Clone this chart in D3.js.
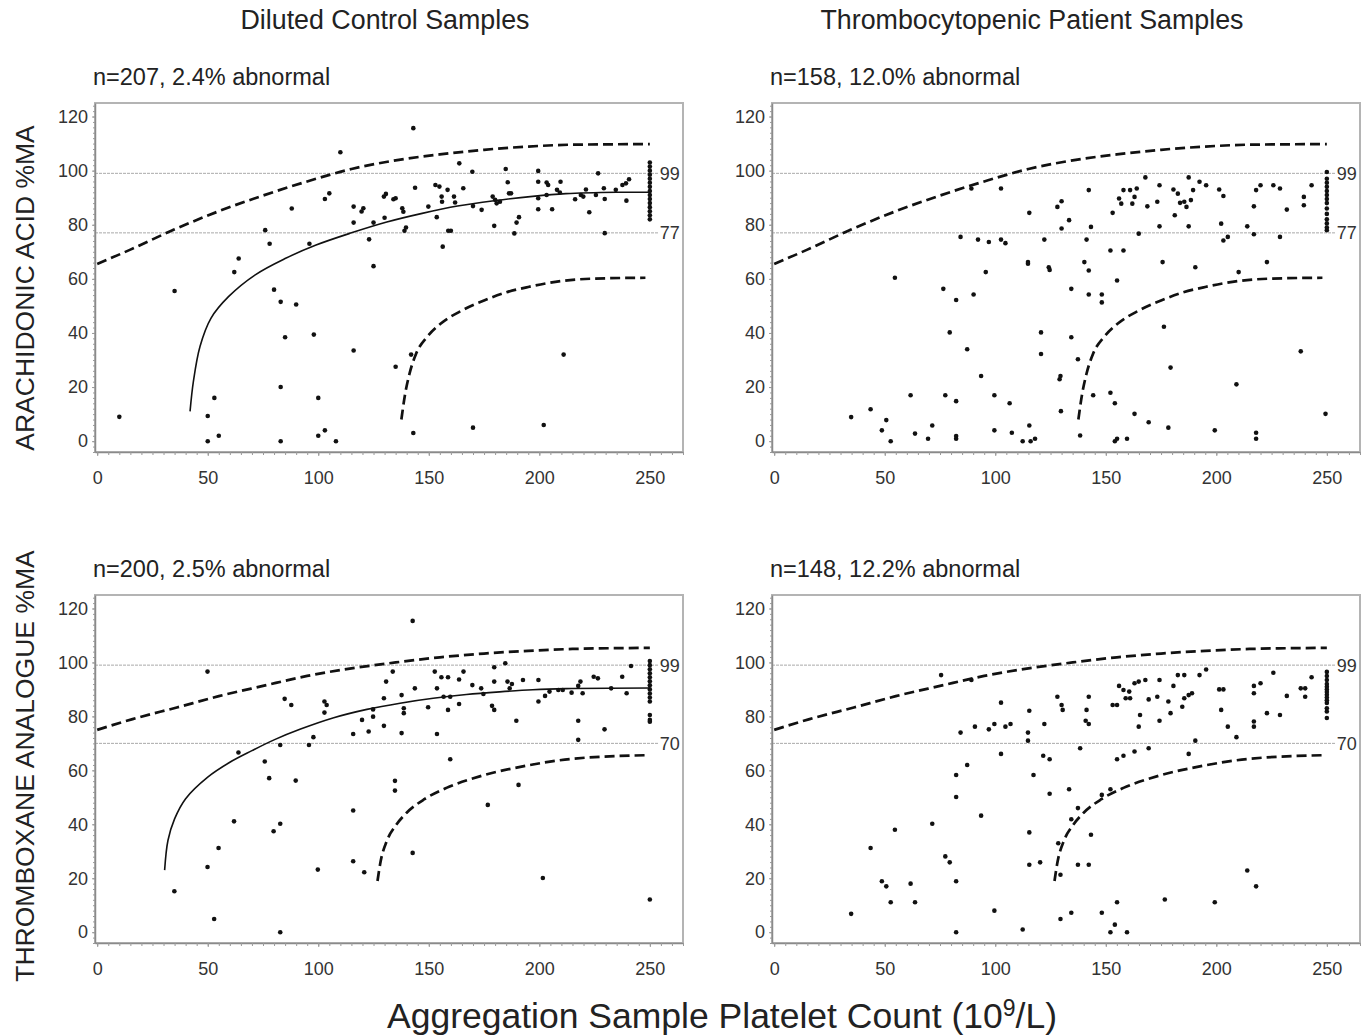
<!DOCTYPE html>
<html>
<head>
<meta charset="utf-8">
<script src="https://cdn.jsdelivr.net/npm/d3@7/dist/d3.min.js"></script>
<style>
  body { margin: 0; background: #fff; }
  svg { display: block; font-family: "Liberation Sans", Arial, sans-serif; }
</style>
</head>
<body>
<div class="canvas"></div>
<script>
// Axis ticks and labels
const xTicks = [0, 50, 100, 150, 200, 250];
const yTicks = [0, 20, 40, 60, 80, 100, 120];
const colTitles = ["Diluted Control Samples", "Thrombocytopenic Patient Samples"];
const rowTitles = ["ARACHIDONIC ACID %MA", "THROMBOXANE ANALOGUE %MA"];
const panelLabels = ["n=207, 2.4% abnormal", "n=158, 12.0% abnormal", "n=200, 2.5% abnormal", "n=148, 12.2% abnormal"];
const refLines = [[99, 77], [99, 70]];

// Reference band curves (upper / lower dashed) and fitted curve (solid) per row
const aaUpper = [[0,65.5],[15,70.8],[35,78.3],[55,85],[75,90.8],[95,96],[115,100.6],[135,103.8],[155,106],[175,107.7],[195,108.9],[215,109.6],[250,109.8]];
const aaLower = [[137.6,8],[139.2,17],[141.3,25],[144.3,32.4],[149.3,38.6],[155.3,43.4],[165,48.3],[175,52],[185,55],[195,57],[211,59.3],[225,60.1],[248,60.4]];
const aaFit = [[42,11],[43.5,22],[46.5,35],[51.5,45.5],[59.5,53.5],[71.5,61.5],[85,67.5],[99,72.5],[115,77],[131,81],[147,84.2],[163,86.9],[180,88.9],[197,90.5],[212,91.5],[235,92],[250,92]];
const txUpper = [[0,75],[16,79],[36,83.3],[55,87.5],[75,91.3],[95,95],[115,97.8],[135,100],[155,101.9],[175,103.3],[195,104.3],[215,105],[250,105.4]];
const txLower = [[126.8,19],[128.2,26.2],[131,33.8],[135,39.5],[140,44.3],[148,49.3],[158,53.5],[174,58],[194,61.7],[214,64.2],[248,65.6]];
const txFit = [[30.5,23],[32,34],[35,42],[40,49.5],[50,57.5],[60,63],[70,67.3],[80,71.3],[92,75.3],[107,79.5],[122,82.6],[137,84.9],[152,86.7],[167,88.1],[182,89.1],[197,89.9],[212,90.3],[250,90.5]];

// Points: [platelet count, %MA]
const aaControl = [[10,9],[35,55.5],[50,9.3],[50,0],[53,16],[55,2],[62,62.5],[64,67.5],[76,78],[78,73],[80,56],[83,51.5],[83,20],[83,0],[85,38.4],[88,86],[90,50.5],[96,73],[98,39.4],[100,16],[100,2],[103,4],[103,89.5],[105,91.6],[108,0],[110,106.8],[116,86.7],[116,80.8],[116,33.5],[119.6,84.9],[120.4,86.1],[123,74.6],[125,80.8],[125,64.7],[129.7,90.4],[130.6,91.4],[130,82.6],[134,89.4],[135,89.8],[135,27.5],[138,86.1],[138.5,84.8],[139,77.8],[139.7,79],[142,32],[143,115.7],[143,3],[143.8,93.7],[149.8,86.7],[153,94.7],[154.8,94.1],[153.6,82.8],[155.8,90.4],[156,88.5],[156.3,71.9],[158.5,92.9],[158.8,77.8],[160,77.8],[161.4,90.4],[161.9,88.2],[163.8,102.7],[165.6,93.5],[169.7,99.6],[170,86.9],[170,5],[173.9,85.5],[178.9,90.4],[180,89.2],[180.7,87.9],[182.2,88.5],[179.6,79.6],[184.8,100.6],[185.7,95.7],[186.3,91.6],[187.2,91.6],[188.7,76.8],[189.7,80.8],[190.8,82.8],[199.5,99.9],[199.5,95.9],[199.5,89.8],[199.5,85.7],[202,6],[203.3,95.6],[204,94.7],[203.3,91],[205.8,85.7],[208,92.9],[209.3,91.9],[209.6,95.9],[211,32],[216.2,89.4],[218.8,91],[219.9,90.4],[221.1,93],[222.6,84.6],[225.6,91],[226.6,99],[229.2,93.5],[229.6,89.5],[229.6,76.9],[234.6,92.9],[237.6,94.7],[239.2,95.3],[240.6,96.8],[239.4,88.9],
  [250,82],[250,83.5],[250,85],[250,86.5],[250,88],[250,89.5],[250,91],[250,92.5],[250,94],[250,95.5],[250,97],[250,98.5],[250,100],[250,101.5],[250,103]];

const aaPatient = [[34.8,8.9],[43.6,11.8],[48.7,4],[50.7,7.8],[52.7,0],[54.6,60.4],[61.7,17],[63.7,2.8],[69.6,0.9],[71.5,5.8],[76.5,56.3],[77.4,17],[79.4,40.2],[82.3,52.2],[82.3,14.8],[82.3,1.9],[82.3,0.9],[84.3,75.5],[87.3,34],[89.2,93.4],[90.2,54.2],[92.2,74.5],[93.6,24.1],[95.7,62.5],[97.1,73.6],[99.6,17],[99.6,4],[102.6,93.4],[102.6,74.5],[104.6,73.2],[106.5,14],[107.5,3.1],[112.4,0],[114.8,66.2],[114.8,65.6],[115.4,84.4],[115.4,5.8],[116,0],[118,0.9],[120.7,40.2],[120.7,32.2],[122.2,74.5],[124.2,64.3],[124.6,63.3],[128.1,86.6],[129.1,22.9],[129.5,24.1],[129.7,11.1],[130,88.7],[130,78.6],[133.4,81.7],[134.4,56.3],[134.4,38.4],[137.4,30.3],[138.4,2.1],[140.3,66.2],[141.3,74.5],[142.3,63.1],[142.3,92.8],[143.3,79.2],[142.3,54.2],[144.3,17],[148.2,54.2],[148.2,51.3],[152.1,70.5],[152.1,17.9],[153.1,84.4],[154.1,14],[155.1,59.4],[154.1,0],[155.1,0.9],[156,89.7],[157,87.8],[158,92.8],[158,70.5],[159.6,0.9],[161,92.8],[162,87.8],[163,90.3],[164,93.4],[163,10.1],[164.9,76.7],[167.9,97.5],[168.8,86.8],[169.4,7],[173.3,88.5],[174.3,94.6],[174.3,79.4],[175.7,66.2],[176.3,42.3],[178.3,5],[179.3,27.2],[180.6,93],[181.2,83.5],[182.6,91.5],[183.6,88.1],[185.5,88.5],[186.5,86.6],[187.5,97.5],[188.5,89.1],[187.5,79.4],[189.5,92.8],[190.5,64.3],[192.4,95.9],[195.4,94.6],[199.3,4],[201.3,93],[202.2,80.4],[203.2,90.6],[203.2,74.2],[205.2,75.5],[209.1,21],[210.1,62.5],[214,79.4],[217,86.8],[217,76.5],[218,0.9],[218,3.1],[218,92.8],[220,94.6],[222.9,66.2],[225.8,94.6],[228.8,93.4],[228.8,75.5],[231.9,85.6],[238.2,33.2],[239.6,90.3],[239.6,87.2],[243.1,94.6],[249.4,10.1],
  [250,78],[250,79],[250,80.5],[250,82],[250,84],[250,86],[250,88],[250,89.5],[250,91],[250,92.5],[250,94],[250,95.5],[250,97],[250,99.5]];

const txControl = [[34.9,15.2],[49.9,96.6],[49.9,24.2],[52.9,4.9],[54.9,31.2],[61.9,41.1],[63.9,66.6],[75.8,63.3],[77.8,57.1],[79.8,37.4],[82.8,69.4],[82.8,40.2],[82.8,0],[84.8,86.5],[87.8,84.2],[89.8,56.2],[95.8,69.4],[97.8,72.3],[99.8,23.2],[102.8,85.5],[103.8,84.2],[102.8,81.4],[115.8,73.5],[115.8,45.1],[115.8,26.3],[119.8,78.7],[120.8,22.2],[122.8,74.4],[124.8,82.6],[124.8,79.9],[129.7,86.7],[129.7,76.5],[130.7,92.9],[133.7,96.6],[134.7,56.1],[134.7,52.5],[137.7,87.9],[138.7,83],[138.7,81.2],[137.7,73.8],[142.7,115.4],[142.7,29.4],[143.7,90.4],[149.7,83.4],[152.7,96.6],[153.7,90.4],[153.7,73.5],[155.7,94.5],[158.7,94.5],[156.7,87.3],[159.7,87.3],[158.7,82.4],[159.7,64.1],[163.7,93.7],[163.7,84.6],[165.7,96.6],[169.7,91.6],[173.7,90.4],[174.7,88.3],[176.7,47.2],[179.6,98.2],[179.6,92.9],[178.6,83.9],[179.6,82.4],[184.6,99.7],[185.6,92.9],[186.6,90.4],[187.6,92],[189.6,78.4],[190.6,54.6],[192.6,93.5],[199.6,93.5],[199.6,85.5],[201.6,20.1],[202.6,87.6],[204.6,89.2],[208.6,89.8],[210.6,89.8],[214.6,88.8],[217.6,91.3],[218.6,92.9],[217.6,78.4],[217.6,71.3],[219.6,88.6],[224.6,94.7],[226.5,94.1],[229.5,75.2],[232.5,90.4],[237.5,94.7],[239.5,88.6],[241.5,98.7],
  [250,85.5],[250,87],[250,88.5],[250,90],[250,91.5],[250,93],[250,94.5],[250,96],[250,97.5],[250,99],[250,100.5],[250,80.5],[250,78.7],[250,78],[250,12.1]];

const txPatient = [[34.8,6.8],[43.6,31.2],[48.7,18.9],[50.7,17],[52.7,11.1],[54.6,38],[61.7,18],[63.7,11.1],[71.5,40.2],[75.5,95.3],[77.4,28.1],[79.4,25.9],[82.3,58.3],[82.3,50.1],[82.3,18.9],[82.3,0],[84.3,74],[87.3,62],[89.2,93.5],[90.8,76.2],[93.6,43.2],[97.1,75.2],[99.6,77.2],[99.6,8],[102.6,85.1],[102.6,66.1],[104.6,76.2],[106.9,77.2],[112.4,1],[114.8,74],[114.8,71],[115.4,82.1],[115.4,37],[115.4,25],[117.3,58.3],[120.3,25.9],[122.2,77.2],[121.7,65.4],[124.6,64.1],[124.6,51.3],[128.1,87.3],[128.5,33],[129.5,21.3],[129.5,4.9],[130,84.2],[130.5,82.4],[133.4,53],[134.4,41.9],[134.4,7.2],[137.4,46],[137.4,25],[138.4,68.2],[141.3,82.4],[140.9,78.4],[142.3,77.2],[142.3,87.3],[142.3,25],[143.3,36.1],[148.2,50.9],[148.2,7.2],[152.1,53],[152.1,0],[153.1,84.2],[155.1,84.2],[154.1,2.8],[155.1,11.1],[155.1,64.1],[158,65.4],[156,91.3],[158,89.8],[160.6,89.2],[159,86.7],[161,86.7],[159.6,0],[163,92.3],[164.9,92.9],[163,67],[164.9,76.2],[165.5,80.5],[167.9,93.5],[169.4,86.3],[169.4,68.2],[173.3,87.3],[174.3,93.5],[174.3,78.4],[176.7,12.1],[178.3,85.5],[179.3,81.2],[180.6,91.3],[182.6,95.3],[185.5,95.3],[184.6,83.6],[185.5,86.7],[187.5,87.9],[189,88.6],[187.5,66.1],[190.5,71],[192.4,95.3],[195.4,97.4],[199.3,11.1],[201.3,90],[203.2,90],[202.2,82.4],[205.2,76.2],[209.1,72.3],[214,22.9],[217,91.3],[220,92.3],[217,88.6],[217,78.1],[217,76.2],[218,17],[222.9,81.2],[225.8,96.2],[228.8,80.5],[231.9,87.6],[238.2,90.4],[240.2,90.4],[240.2,87.3],[243.1,94.5],
  [250,79.4],[250,81.8],[250,83],[250,85],[250,86],[250,87],[250,88],[250,89],[250,90],[250,91],[250,92],[250,93.5],[250,95],[250,96.5]];

// Panel layout: columns (x pixel ranges) and rows (y pixel ranges)
const cols = [[95, 683], [772, 1360]];
const rows = [[452, 103], [943, 595]];
const colTitleX = [385, 1032];

const panels = [
  { col: 0, row: 0, pts: aaControl, upper: aaUpper, lower: aaLower, fit: aaFit },
  { col: 1, row: 0, pts: aaPatient, upper: aaUpper, lower: aaLower, fit: null },
  { col: 0, row: 1, pts: txControl, upper: txUpper, lower: txLower, fit: txFit },
  { col: 1, row: 1, pts: txPatient, upper: txUpper, lower: txLower, fit: null }
];

const svg = d3.select(".canvas")
  .append("svg")
  .attr("width", 1361)
  .attr("height", 1035);

const textColor = "#222";

// Column titles
colTitles.forEach((t, i) => {
  svg.append("text")
    .attr("x", colTitleX[i])
    .attr("y", 29)
    .attr("text-anchor", "middle")
    .attr("font-size", 26.8)
    .attr("fill", textColor)
    .text(t);
});

// Row titles (rotated)
const rowCenters = [288, 766];
rowTitles.forEach((t, i) => {
  svg.append("text")
    .attr("transform", `translate(34,${rowCenters[i]}) rotate(-90)`)
    .attr("text-anchor", "middle")
    .attr("font-size", 26.5)
    .attr("fill", textColor)
    .text(t);
});

// X axis title with superscript
const xTitle = svg.append("text")
  .attr("x", 722)
  .attr("y", 1028)
  .attr("text-anchor", "middle")
  .attr("font-size", 35.5)
  .attr("fill", textColor);
xTitle.append("tspan").text("Aggregation Sample Platelet Count (10");
xTitle.append("tspan").attr("dy", -12).attr("font-size", 23).text("9");
xTitle.append("tspan").attr("dy", 12).text("/L)");

panels.forEach((p, i) => {
  const x = d3.scaleLinear().domain([-1, 265]).range(cols[p.col]);
  const y = d3.scaleLinear().domain([-4, 125]).range(rows[p.row]);
  const g = svg.append("g");
  const x0 = cols[p.col][0], x1 = cols[p.col][1];
  const yb = rows[p.row][0], yt = rows[p.row][1];

  // panel label
  svg.append("text")
    .attr("x", x0 - 2)
    .attr("y", yt - 18)
    .attr("font-size", 23.5)
    .attr("fill", textColor)
    .text(panelLabels[i]);

  // frame
  g.append("rect")
    .attr("x", x0)
    .attr("y", yt)
    .attr("width", x1 - x0)
    .attr("height", yb - yt)
    .attr("fill", "none")
    .attr("stroke", "#b4b4b4")
    .attr("stroke-width", 2);

  // reference lines + labels
  refLines[p.row].forEach(v => {
    g.append("line")
      .attr("x1", x0)
      .attr("x2", x(254))
      .attr("y1", y(v))
      .attr("y2", y(v))
      .attr("stroke", "#aaa")
      .attr("stroke-width", 1)
      .attr("stroke-dasharray", "3,1");
    g.append("text")
      .attr("x", x(254.5))
      .attr("y", y(v))
      .attr("dy", "0.36em")
      .attr("font-size", 18)
      .attr("fill", "#333")
      .text(v);
  });

  // axes
  g.append("g")
    .attr("transform", `translate(0,${yb})`)
    .call(d3.axisBottom(x).tickValues(xTicks).tickSize(4).tickPadding(15).tickSizeOuter(0));
  g.append("g")
    .attr("transform", `translate(0,${yb})`)
    .call(d3.axisBottom(x).tickValues(d3.range(0, 266, 5)).tickSize(3).tickFormat("").tickSizeOuter(0))
    .call(a => a.select(".domain").remove());
  g.append("g")
    .attr("transform", `translate(${x0},0)`)
    .call(d3.axisLeft(y).tickValues(yTicks).tickSize(3).tickPadding(4).tickSizeOuter(0));
  g.append("g")
    .attr("transform", `translate(${x0},0)`)
    .call(d3.axisLeft(y).tickValues(d3.range(-4, 126, 2)).tickSize(2).tickFormat("").tickSizeOuter(0))
    .call(a => a.select(".domain").remove());

  g.selectAll(".domain").attr("stroke", "#8a8a8a").attr("stroke-width", 1.5);
  g.selectAll(".tick line").attr("stroke", "#999");
  g.selectAll(".tick text")
    .attr("font-size", 18)
    .attr("font-family", "Liberation Sans, Arial, sans-serif")
    .attr("fill", "#333");

  // curves
  const line = d3.line()
    .x(d => x(d[0]))
    .y(d => y(d[1]))
    .curve(d3.curveMonotoneX);
  const smooth = d3.line()
    .x(d => x(d[0]))
    .y(d => y(d[1]))
    .curve(d3.curveCatmullRom.alpha(0.5));

  [p.upper, p.lower].forEach(c => {
    g.append("path")
      .attr("d", line(c))
      .attr("fill", "none")
      .attr("stroke", "#111")
      .attr("stroke-width", 2.7)
      .attr("stroke-dasharray", "10,5");
  });
  if (p.fit) {
    g.append("path")
      .attr("d", smooth(p.fit))
      .attr("fill", "none")
      .attr("stroke", "#111")
      .attr("stroke-width", 1.6);
  }

  // points
  g.append("g")
    .selectAll("circle")
    .data(p.pts)
    .enter().append("circle")
    .attr("cx", d => x(d[0]))
    .attr("cy", d => y(d[1]))
    .attr("r", 2.3)
    .attr("fill", "#111");
});
</script>
</body>
</html>
